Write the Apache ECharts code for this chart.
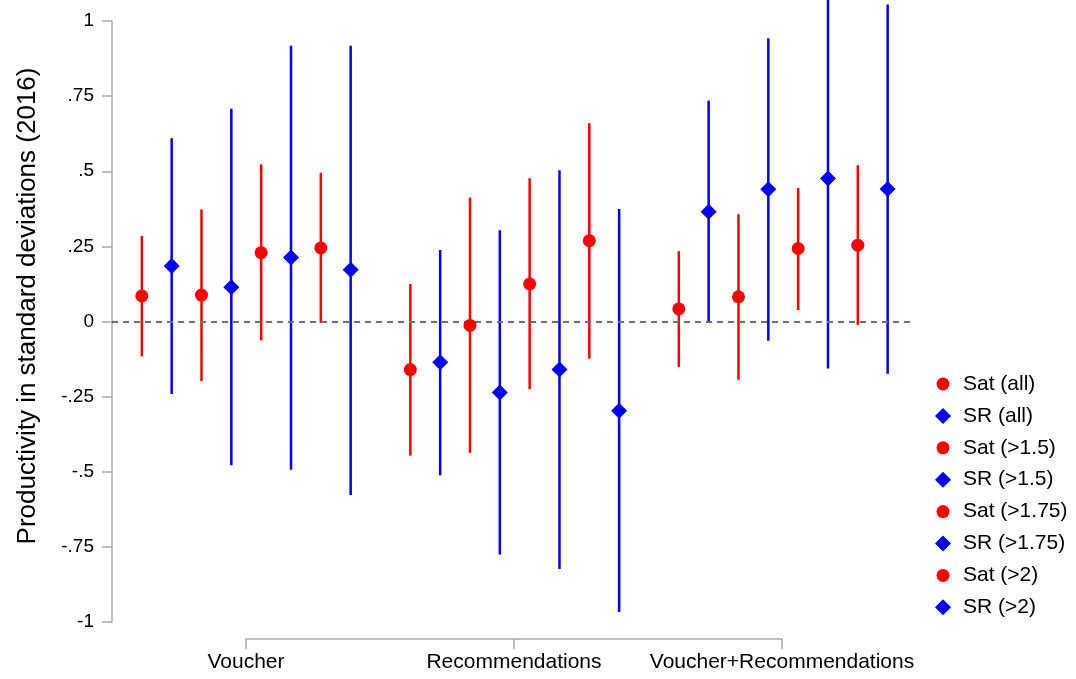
<!DOCTYPE html>
<html><head><meta charset="utf-8">
<script src="https://cdn.jsdelivr.net/npm/echarts@6/dist/echarts.min.js"></script>
<style>html,body{margin:0;padding:0;background:#fff}#c{width:1076px;height:679px}</style>
</head><body><div id="c"></div>
<script>
const categories = ['Voucher', 'Recommendations', 'Voucher+Recommendations'];
const seriesNames = ['Sat (all)', 'SR (all)', 'Sat (>1.5)', 'SR (>1.5)', 'Sat (>1.75)', 'SR (>1.75)', 'Sat (>2)', 'SR (>2)'];
const yTickLabels = ['-1', '-.75', '-.5', '-.25', '0', '.25', '.5', '.75', '1'];

// point estimates and 95% CI bounds, one value per series (in seriesNames order)
const estVoucher   = [0.085, 0.185, 0.088, 0.114, 0.229, 0.213, 0.245, 0.172];
const loVoucher    = [-0.116, -0.241, -0.198, -0.478, -0.063, -0.493, -0.005, -0.577];
const hiVoucher    = [0.285, 0.610, 0.373, 0.708, 0.523, 0.918, 0.495, 0.918];

const estRecommend = [-0.160, -0.136, -0.013, -0.236, 0.125, -0.160, 0.269, -0.297];
const loRecommend  = [-0.446, -0.512, -0.437, -0.775, -0.225, -0.824, -0.124, -0.967];
const hiRecommend  = [0.125, 0.238, 0.412, 0.304, 0.477, 0.503, 0.660, 0.374];

const estBoth      = [0.042, 0.365, 0.082, 0.440, 0.243, 0.476, 0.254, 0.441];
const loBoth       = [-0.152, -0.004, -0.194, -0.064, 0.038, -0.156, -0.011, -0.174];
const hiBoth       = [0.234, 0.735, 0.357, 0.943, 0.444, 1.100, 0.520, 1.055];

const groupsEst = [estVoucher, estRecommend, estBoth];
const groupsLo = [loVoucher, loRecommend, loBoth];
const groupsHi = [hiVoucher, hiRecommend, hiBoth];

const FONT = '"Liberation Sans", Arial, Helvetica, sans-serif';
const RED = '#ff0000', BLUE = '#0000ff', AXIS = '#a8a8a8';
// legend circle icon: a 13px disc inside a 16x16 box (corner points keep the box size)
const LEGEND_CIRCLE = 'path://M0,0L0,0M16,16L16,16M14.5,8A6.5,6.5,0,1,1,1.5,8A6.5,6.5,0,1,1,14.5,8Z';

const series = [];
seriesNames.forEach((name, i) => {
  const isSat = i % 2 === 0;
  const color = isSat ? RED : BLUE;
  const pts = [], bars = [];
  for (let g = 0; g < 3; g++) {
    const x = g * 9 + i + 1;
    pts.push([x, groupsEst[g][i]]);
    bars.push([x, groupsLo[g][i], groupsHi[g][i]]);
  }
  series.push({
    type: 'scatter', name: name, xAxisIndex: 0, yAxisIndex: 0,
    data: pts, symbol: isSat ? 'circle' : 'diamond', symbolSize: isSat ? 13 : 16,
    itemStyle: { color: color, opacity: 1 }, z: 5, silent: true
  });
  series.push({
    type: 'custom', name: name, xAxisIndex: 0, yAxisIndex: 0, data: bars, clip: false, z: 3, silent: true,
    renderItem: function (params, api) {
      const a = api.coord([api.value(0), api.value(1)]);
      const b = api.coord([api.value(0), api.value(2)]);
      return { type: 'line', shape: { x1: a[0], y1: a[1], x2: b[0], y2: b[1] },
        style: { stroke: color, lineWidth: 2.5 } };
    }
  });
});
// zero reference line
series.push({
  type: 'line', name: 'zero', xAxisIndex: 0, yAxisIndex: 0, data: [], silent: true,
  markLine: { silent: true, symbol: 'none', label: { show: false },
    lineStyle: { color: '#707070', width: 2, type: [6, 5] }, data: [{ yAxis: 0 }] }
});

const chart = echarts.init(document.getElementById('c'), null, { renderer: 'canvas' });
chart.setOption({
  animation: false,
  backgroundColor: '#fff',
  textStyle: { fontFamily: FONT },
  grid: [
    { left: 112, right: 163, top: 21, bottom: 57 },
    { left: 246, right: 294, top: 638, bottom: 40 }
  ],
  xAxis: [
    { type: 'value', gridIndex: 0, min: 0, max: 26.85, show: false },
    { type: 'category', gridIndex: 1, data: categories, boundaryGap: false,
      axisLine: { lineStyle: { color: AXIS, width: 1.5 } },
      axisTick: { length: 10, lineStyle: { color: AXIS, width: 1.5 }, alignWithLabel: true },
      axisLabel: { color: '#000', fontSize: 21, fontFamily: FONT, margin: 13, interval: 0 },
      splitLine: { show: false } }
  ],
  yAxis: [
    { type: 'value', gridIndex: 0, min: -1, max: 1, interval: 0.25,
      axisLine: { show: true, lineStyle: { color: AXIS, width: 1.5 } },
      axisTick: { show: true, length: 10, lineStyle: { color: AXIS, width: 1.5 } },
      axisLabel: { color: '#000', fontSize: 19, fontFamily: FONT, margin: 18,
        formatter: v => yTickLabels[Math.round((v + 1) / 0.25)] },
      splitLine: { show: false } },
    { type: 'value', gridIndex: 1, show: false }
  ],
  legend: {
    orient: 'vertical', left: 935, top: 373, padding: 0,
    itemWidth: 16, itemHeight: 16, itemGap: 9.9,
    data: seriesNames.map((n, i) => ({ name: n, icon: i % 2 === 0 ? LEGEND_CIRCLE : 'diamond' })),
    textStyle: { fontSize: 21, color: '#000', fontFamily: FONT, lineHeight: 22, padding: [0, 0, 0, 7] },
    selectedMode: false
  },
  graphic: [{
    type: 'text', x: 28, y: 306, rotation: Math.PI / 2,
    style: { text: 'Productivity in standard deviations (2016)', fontSize: 26, fontFamily: FONT,
      fill: '#000', align: 'center', verticalAlign: 'middle' }
  }],
  series: series
});
</script>
</body></html>
